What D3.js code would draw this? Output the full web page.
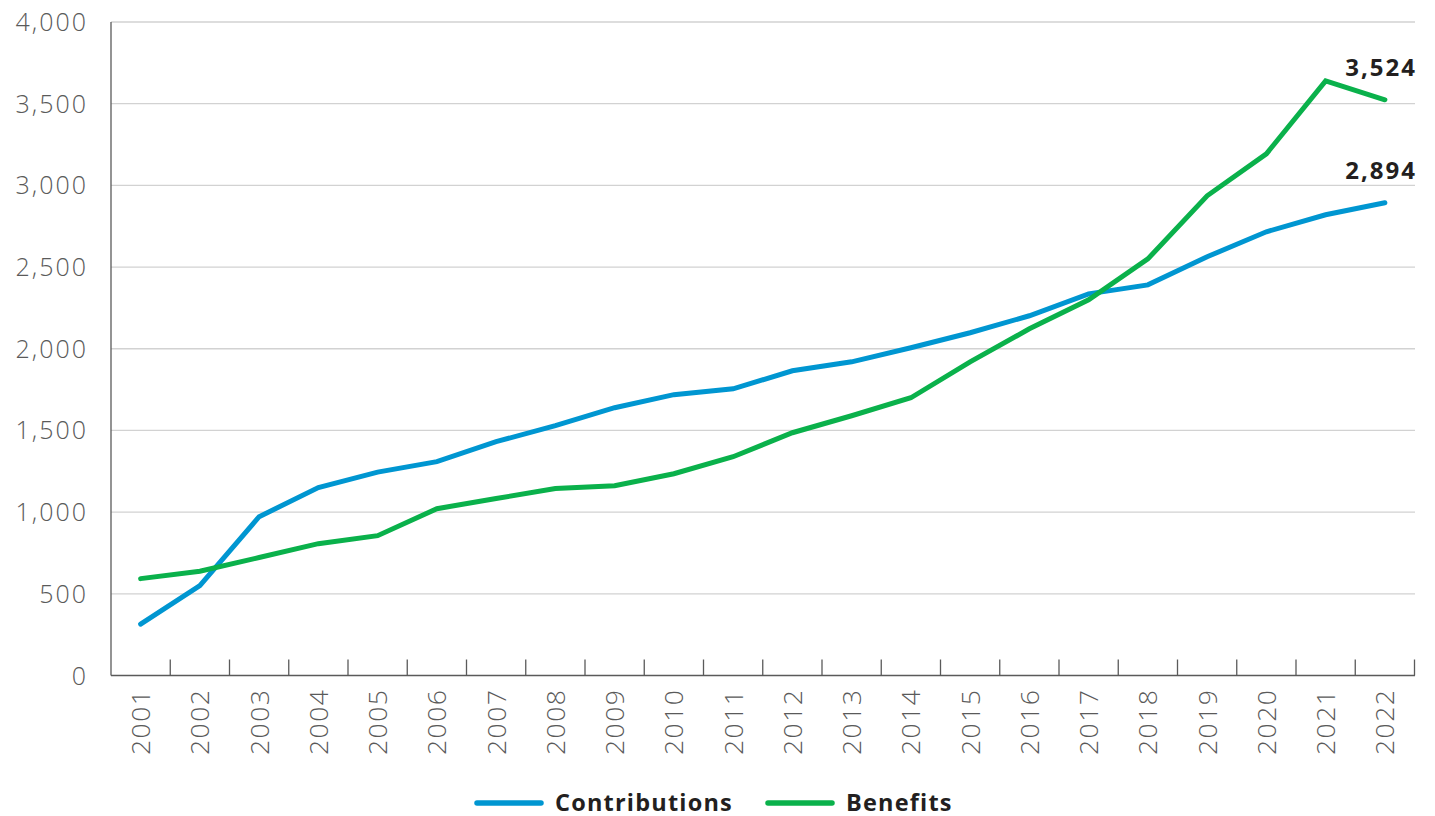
<!DOCTYPE html>
<html>
<head>
<meta charset="utf-8">
<script src="https://cdn.jsdelivr.net/npm/d3@7"></script>
<style>
  body { margin: 0; background: #fff; }
  text { font-family: "Open Sans", Lato, sans-serif; }
</style>
</head>
<body>
<div id="chart"></div>
<script>
// data
const years = ["2001","2002","2003","2004","2005","2006","2007","2008","2009","2010","2011",
               "2012","2013","2014","2015","2016","2017","2018","2019","2020","2021","2022"];
const contributions = [315, 550, 972, 1150, 1245, 1309, 1431, 1529, 1639, 1719, 1755,
                       1865, 1920, 2006, 2098, 2202, 2336, 2391, 2563, 2716, 2820, 2894];
const benefits = [593, 638, 722, 807, 856, 1021, 1083, 1144, 1162, 1235, 1339,
                  1486, 1590, 1700, 1920, 2122, 2300, 2550, 2936, 3193, 3640, 3524];
const yTicks = [0, 500, 1000, 1500, 2000, 2500, 3000, 3500, 4000];
const series = [
  {name: "Contributions", values: contributions, color: "#0096d1"},
  {name: "Benefits", values: benefits, color: "#0ab14b"}
];

const width = 1435, height = 816;
const margin = {top: 22, right: 20, bottom: 140, left: 111};
const fmt = d3.format(",");

const svg = d3.select("#chart").append("svg")
    .attr("width", width)
    .attr("height", height);

const x = d3.scaleBand()
    .domain(years)
    .range([margin.left, width - margin.right - 0.5]);
const y = d3.scaleLinear()
    .domain([0, 4000])
    .range([height - margin.bottom - 0.5, margin.top]);

// gridlines
svg.append("g")
    .selectAll("line")
    .data(yTicks.filter(d => d > 0))
    .enter().append("line")
    .attr("x1", margin.left)
    .attr("x2", width - margin.right)
    .attr("y1", d => y(d))
    .attr("y2", d => y(d))
    .attr("stroke", "#d2d2d2")
    .attr("stroke-width", 1.3);

// y axis labels
svg.append("g")
    .selectAll("text")
    .data(yTicks)
    .enter().append("text")
    .attr("x", 88)
    .attr("y", d => y(d))
    .attr("dy", "0.36em")
    .attr("text-anchor", "end")
    .attr("fill", "#5a5a5a")
    .style("font-size", "25px")
    .style("font-weight", 300)
    .style("letter-spacing", "2px")
    .text(d => fmt(d));

// y axis line
svg.append("line")
    .attr("x1", margin.left).attr("x2", margin.left)
    .attr("y1", margin.top).attr("y2", y(0))
    .attr("stroke", "#5a5a5a").attr("stroke-width", 1.3);

// x axis line + ticks between categories
svg.append("line")
    .attr("x1", margin.left).attr("x2", width - margin.right)
    .attr("y1", y(0)).attr("y2", y(0))
    .attr("stroke", "#5a5a5a").attr("stroke-width", 1.3);

const boundaries = years.slice(1).map(d => x(d)).concat([x.range()[1]]);
svg.append("g")
    .selectAll("line")
    .data(boundaries)
    .enter().append("line")
    .attr("x1", d => d).attr("x2", d => d)
    .attr("y1", y(0)).attr("y2", y(0) - 16)
    .attr("stroke", "#5a5a5a").attr("stroke-width", 1.3);

// year labels, rotated
svg.append("g")
    .selectAll("text")
    .data(years)
    .enter().append("text")
    .attr("transform", d => `translate(${x(d) + x.bandwidth() / 2},${y(0) + 13}) rotate(-90)`)
    .attr("dy", "0.36em")
    .attr("text-anchor", "end")
    .attr("fill", "#5a5a5a")
    .style("font-size", "26.5px")
    .style("font-weight", 300)
    .style("letter-spacing", "1.5px")
    .text(d => d);

// lines
const line = d3.line()
    .x((d, i) => x(years[i]) + x.bandwidth() / 2)
    .y(d => y(d));

svg.append("g")
    .selectAll("path")
    .data(series)
    .enter().append("path")
    .attr("d", d => line(d.values))
    .attr("fill", "none")
    .attr("stroke", d => d.color)
    .attr("stroke-width", 5)
    .attr("stroke-linecap", "round")
    .attr("stroke-linejoin", "miter");

// end labels
svg.append("g")
    .selectAll("text")
    .data(series)
    .enter().append("text")
    .attr("x", width - margin.right + 2)
    .attr("y", d => y(d.values[d.values.length - 1]) - 24)
    .attr("text-anchor", "end")
    .attr("fill", "#231f20")
    .style("font-size", "24px")
    .style("font-weight", 700)
    .style("letter-spacing", "2px")
    .text(d => fmt(d.values[d.values.length - 1]));

// legend
const legendPos = [475, 766];
const legend = svg.append("g")
    .selectAll("g")
    .data(series)
    .enter().append("g")
    .attr("transform", (d, i) => `translate(${legendPos[i]},803)`);

legend.append("line")
    .attr("x1", 2).attr("x2", 66)
    .attr("stroke", d => d.color)
    .attr("stroke-width", 5.5)
    .attr("stroke-linecap", "round");

legend.append("text")
    .attr("x", 80)
    .attr("dy", "0.36em")
    .attr("fill", "#231f20")
    .style("font-size", "23.5px")
    .style("font-weight", 700)
    .style("letter-spacing", "1.2px")
    .text(d => d.name);
</script>
</body>
</html>
